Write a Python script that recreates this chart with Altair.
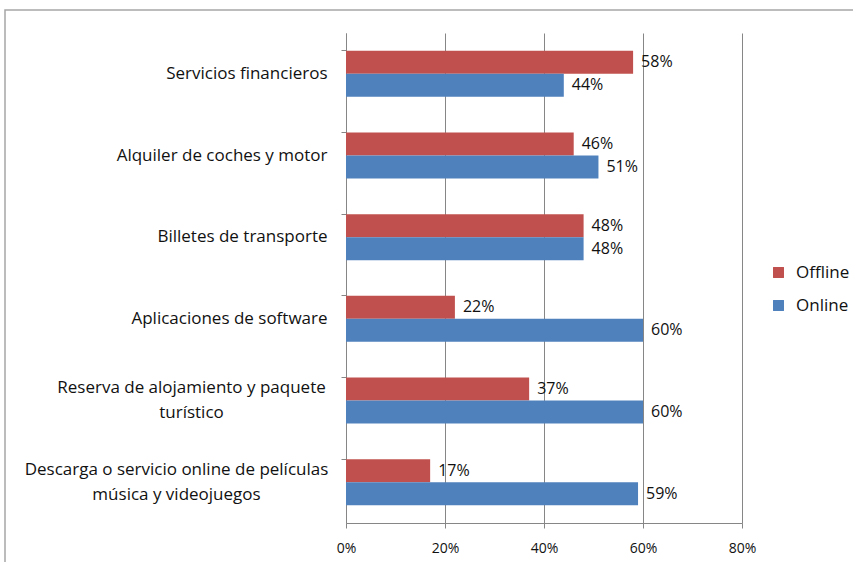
import altair as alt
import pandas as pd

categories = [
    "Servicios financieros",
    "Alquiler de coches y motor",
    "Billetes de transporte",
    "Aplicaciones de software",
    "Reserva de alojamiento y paquete|turístico",
    "Descarga o servicio online de películas|música y videojuegos",
]
offline = [58, 46, 48, 22, 37, 17]
online = [44, 51, 48, 60, 60, 59]
series = ["Offline", "Online"]
colors = ["#C0504D", "#4F81BD"]

rows = []
for c, off, on in zip(categories, offline, online):
    rows.append({"cat": c, "serie": "Offline", "v": off})
    rows.append({"cat": c, "serie": "Online", "v": on})
df = pd.DataFrame(rows)

FONT = "Open Sans"
TXT = "#111111"
MULTI = "indexof(datum.label, '|') >= 0"

y_enc = alt.Y(
    "cat:N",
    sort=categories,
    scale=alt.Scale(paddingInner=0.437, paddingOuter=0.2185),
    axis=alt.Axis(
        title=None,
        labelExpr="split(datum.label, '|')",
        labelFontSize=17,
        labelFont=FONT,
        labelColor=TXT,
        labelAlign={"condition": {"test": MULTI, "value": "center"}, "value": "right"},
        labelPadding={
            "condition": [
                {"test": "indexof(datum.label, 'Reserva') >= 0", "value": 150},
                {"test": "indexof(datum.label, 'Descarga') >= 0", "value": 165},
            ],
            "value": 14,
        },
        labelLineHeight=25,
        labelOffset={"condition": {"test": MULTI, "value": -12.5}, "value": 0},
        tickSize=5,
        tickColor="#868686",
        domainColor="#868686",
        bandPosition=0,
        grid=False,
        labelLimit=400,
    ),
)
x_enc = alt.X(
    "v:Q",
    scale=alt.Scale(domain=[0, 80]),
    axis=alt.Axis(
        title=None,
        values=[0, 20, 40, 60, 80],
        labelExpr="datum.value + '%'",
        labelFontSize=14,
        labelFont=FONT,
        labelColor=TXT,
        labelPadding=13,
        labelFlush=False,
        tickSize=5,
        tickColor="#868686",
        domainColor="#868686",
        grid=True,
        gridColor="#868686",
        gridWidth=1,
    ),
)
yoff = alt.YOffset("serie:N", sort=series, scale=alt.Scale(paddingInner=0, paddingOuter=0))

base = alt.Chart(df)

border = alt.Chart(pd.DataFrame({"a": [0]})).mark_rect(
    fill=None, stroke="#a6a6a6", strokeWidth=1.5
).encode(
    x=alt.value(-341), x2=alt.value(512), y=alt.value(-23), y2=alt.value(534)
)

bars = base.mark_bar(size=23).encode(
    y=y_enc,
    x=x_enc,
    yOffset=yoff,
    color=alt.Color(
        "serie:N",
        sort=series,
        scale=alt.Scale(domain=series, range=colors),
        legend=alt.Legend(
            title=None,
            orient="none",
            legendX=424,
            legendY=231,
            symbolType="square",
            symbolSize=120,
            symbolStrokeWidth=0,
            labelFontSize=17,
            labelFont=FONT,
            labelColor=TXT,
            rowPadding=15,
            labelOffset=9,
        ),
    ),
)

labels = base.mark_text(
    align="left", baseline="middle", dx=8, fontSize=16, font=FONT, color=TXT
).encode(
    y=alt.Y("cat:N", sort=categories),
    x=alt.X("v:Q"),
    yOffset=alt.YOffset("serie:N", sort=series),
    text=alt.Text("lbl:N"),
).transform_calculate(lbl="datum.v + '%'")

chart = alt.layer(border, bars, labels).properties(
    width=396,
    height=490,
    autosize=alt.AutoSizeParams(type="none"),
    padding={"left": 346, "top": 33, "right": 111, "bottom": 39},
    background="white",
).configure_view(stroke=None)

chart.save("out.html", embed_options={"renderer": "svg", "actions": False})
